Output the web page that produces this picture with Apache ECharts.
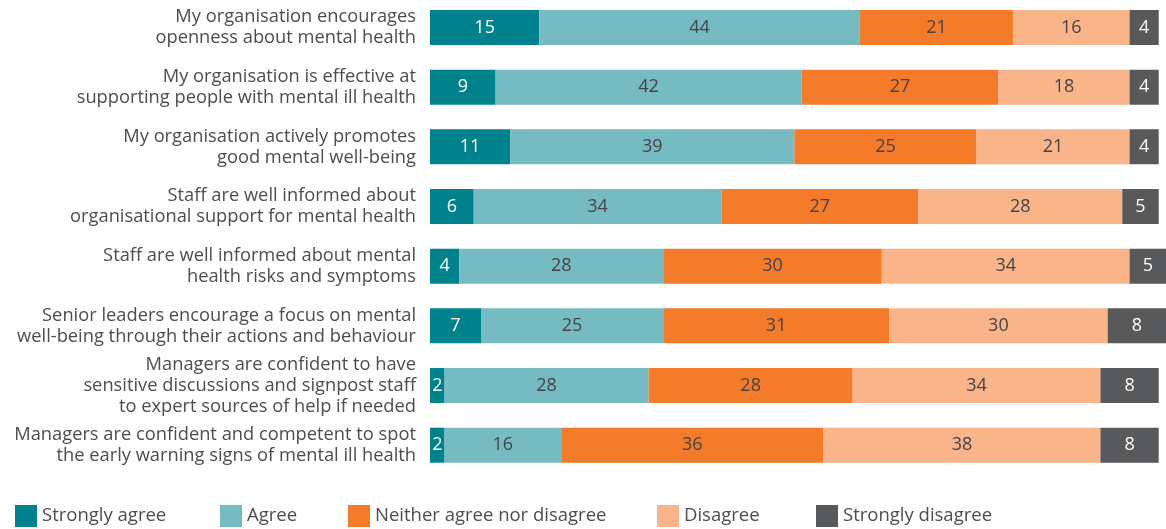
<!DOCTYPE html>
<html>
<head>
<meta charset="utf-8">
<script src="https://cdn.jsdelivr.net/npm/echarts@6/dist/echarts.min.js"></script>
<style>
  html, body { margin: 0; padding: 0; background: #ffffff; }
  #chart { width: 1166px; height: 529px; }
</style>
</head>
<body>
<div id="chart"></div>
<script>
// Survey statements (top to bottom)
const statements = [
  'My organisation encourages\nopenness about mental health',
  'My organisation is effective at\nsupporting people with mental ill health',
  'My organisation actively promotes\ngood mental well-being',
  'Staff are well informed about\norganisational support for mental health',
  'Staff are well informed about mental\nhealth risks and symptoms',
  'Senior leaders encourage a focus on mental\nwell-being through their actions and behaviour',
  'Managers are confident to have\nsensitive discussions and signpost staff\nto expert sources of help if needed',
  'Managers are confident and competent to spot\nthe early warning signs of mental ill health'
];

// Response shares (%)
const stronglyAgree    = [15, 9, 11, 6, 4, 7, 2, 2];
const agree            = [44, 42, 39, 34, 28, 25, 28, 16];
const neither          = [21, 27, 25, 27, 30, 31, 28, 36];
const disagree         = [16, 18, 21, 28, 34, 30, 34, 38];
const stronglyDisagree = [4, 4, 4, 5, 5, 8, 8, 8];

const responseNames = ['Strongly agree', 'Agree', 'Neither agree nor disagree', 'Disagree', 'Strongly disagree'];
const responseValues = [stronglyAgree, agree, neither, disagree, stronglyDisagree];
const colours = ['#00828c', '#76bbc1', '#f47b2a', '#f9b489', '#58595b'];
const labelColours = ['#ffffff', '#444446', '#444446', '#444446', '#ffffff'];

const FONT = 'Open Sans';
const legendLefts = [10, 215, 343, 652, 811];

const chart = echarts.init(document.getElementById('chart'), null, { renderer: 'canvas' });

chart.setOption({
  animation: false,
  textStyle: { fontFamily: FONT },
  // category points sit on the grid edges: first row centre at top, last at bottom
  grid: { left: 430, top: 27.5, width: 736.3, height: 417.7, containLabel: false },
  xAxis: {
    type: 'value', min: 0, max: 101,
    show: false
  },
  yAxis: {
    type: 'category',
    data: statements,
    inverse: true,
    boundaryGap: false,
    axisLine: { show: false },
    axisTick: { show: false },
    splitLine: { show: false },
    axisLabel: {
      fontFamily: FONT, fontSize: 18.3, color: '#4d4d4f',
      lineHeight: 21, align: 'right', margin: 14
    }
  },
  legend: legendLefts.map((left, i) => ({
    data: [responseNames[i]],
    left: left, top: 500,
    itemWidth: 22, itemHeight: 22, itemGap: 0,
    icon: 'rect',
    textStyle: { fontFamily: FONT, fontSize: 18.5, color: '#4d4d4f', padding: [0, 0, 0, 0] },
    selectedMode: false
  })),
  series: responseNames.map((name, i) => ({
    name: name,
    type: 'bar',
    stack: 'total',
    barWidth: 35,
    clip: false,
    data: responseValues[i],
    itemStyle: { color: colours[i] },
    label: {
      show: true,
      position: 'inside',
      fontFamily: FONT, fontSize: 18,
      color: labelColours[i]
    }
  }))
});
</script>
</body>
</html>
